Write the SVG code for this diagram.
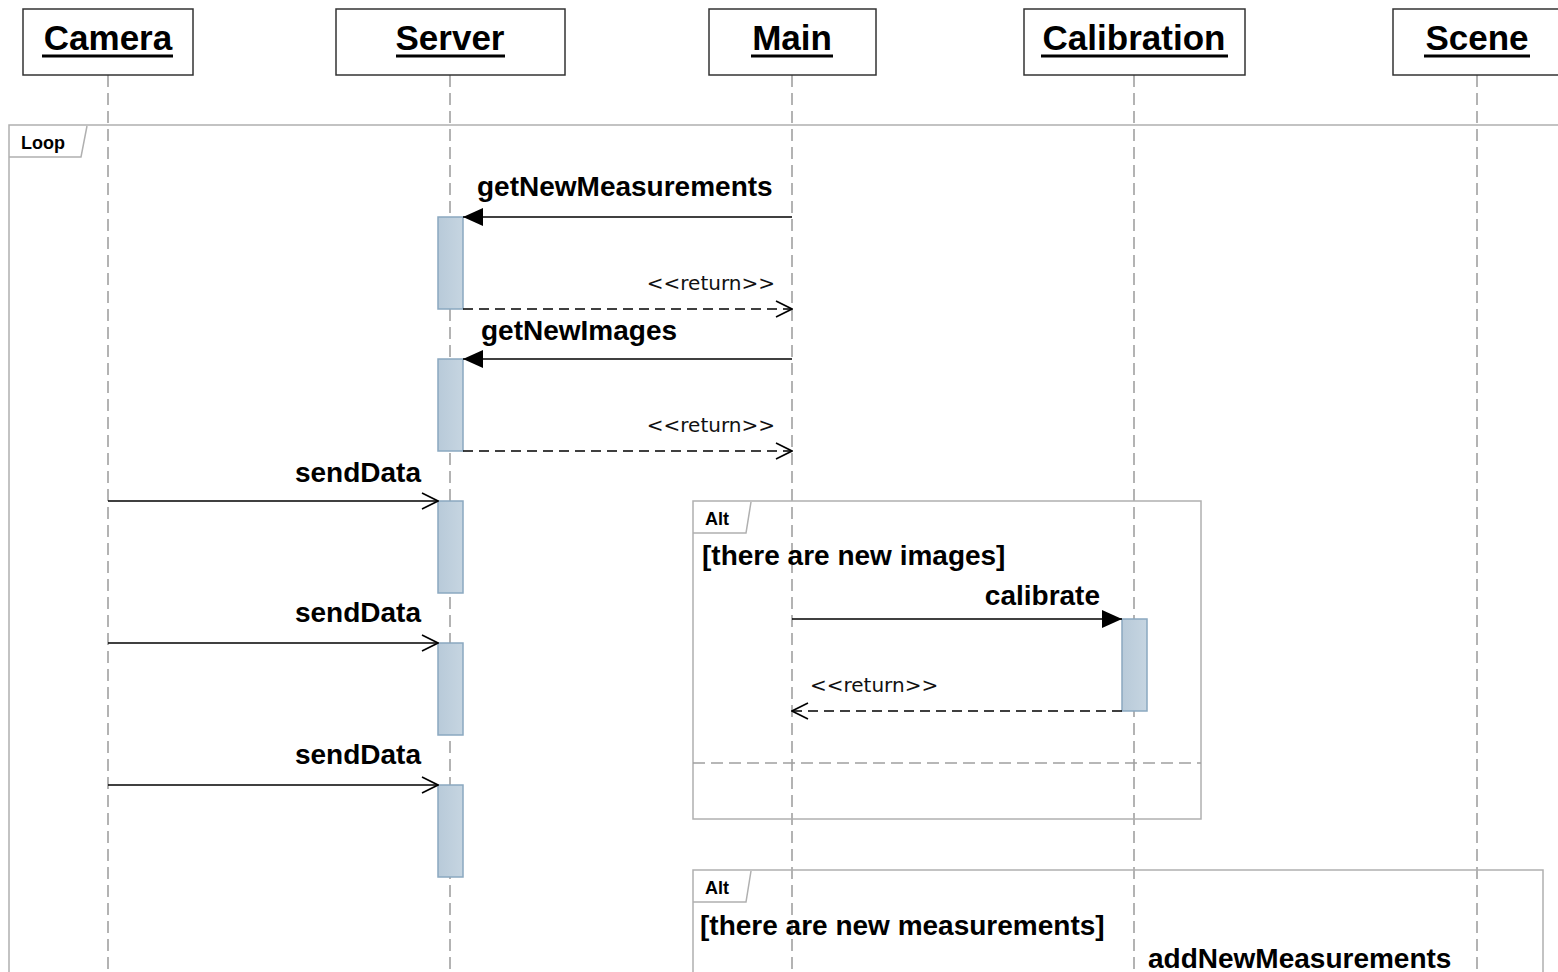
<svg xmlns="http://www.w3.org/2000/svg" width="1558" height="972" viewBox="0 0 1558 972">
<style>
.box{fill:#fff;stroke:#333;stroke-width:1.5}
.title{font-family:"Liberation Sans",Arial,sans-serif;font-weight:bold;font-size:35px;fill:#000;text-anchor:middle}
.ul{stroke:#000;stroke-width:3}
.life{stroke:#9a9a9a;stroke-width:1.5;stroke-dasharray:12 6;fill:none}
.frame{fill:none;stroke:#b0b0b0;stroke-width:1.5}
.tag{font-family:"Liberation Sans",Arial,sans-serif;font-weight:bold;font-size:18px;fill:#000}
.guard{font-family:"Liberation Sans",Arial,sans-serif;font-weight:bold;font-size:28px;fill:#000}
.lbl{font-family:"Liberation Sans",Arial,sans-serif;font-weight:bold;font-size:28px;fill:#000}
.ret{font-family:"DejaVu Sans",Verdana,sans-serif;font-size:20px;fill:#111}
.act{fill:url(#actg);stroke:#8aa8c0;stroke-width:1.5}
.msg{stroke:#000;stroke-width:1.5;fill:none}
.dash{stroke:#000;stroke-width:1.5;fill:none;stroke-dasharray:10 6}
.sep{stroke:#a0a0a0;stroke-width:1.5;stroke-dasharray:12 6}
</style>
<defs>
<linearGradient id="actg" x1="0" y1="0" x2="1" y2="0">
<stop offset="0" stop-color="#b8cad9"/>
<stop offset="1" stop-color="#c6d5e1"/>
</linearGradient>
<marker id="filled" viewBox="0 0 20 18" refX="20" refY="9" markerWidth="20" markerHeight="18" markerUnits="userSpaceOnUse" orient="auto">
<path d="M0,0 L20,9 L0,18 Z" fill="#000"/>
</marker>
<marker id="open" viewBox="0 0 18 20" refX="17" refY="10" markerWidth="18" markerHeight="20" markerUnits="userSpaceOnUse" orient="auto">
<path d="M1,2 L17,10 L1,18" fill="none" stroke="#000" stroke-width="1.6"/>
</marker>
</defs>
<rect width="1558" height="972" fill="#fff"/>

<g id="lifelines">
<line class="life" x1="108" y1="75" x2="108" y2="972"/>
<line class="life" x1="450" y1="75" x2="450" y2="972"/>
<line class="life" x1="792" y1="75" x2="792" y2="972"/>
<line class="life" x1="1134" y1="75" x2="1134" y2="972"/>
<line class="life" x1="1477" y1="75" x2="1477" y2="972"/>
</g>

<g id="node-camera">
<rect class="box" x="23" y="9" width="170" height="66"/>
<text class="title" x="108" y="50">Camera</text>
<line class="ul" x1="42" y1="56" x2="173" y2="56"/>
</g>
<g id="node-server">
<rect class="box" x="336" y="9" width="229" height="66"/>
<text class="title" x="450" y="50">Server</text>
<line class="ul" x1="396" y1="56" x2="505" y2="56"/>
</g>
<g id="node-main">
<rect class="box" x="709" y="9" width="167" height="66"/>
<text class="title" x="792" y="50">Main</text>
<line class="ul" x1="751" y1="56" x2="833" y2="56"/>
</g>
<g id="node-calibration">
<rect class="box" x="1024" y="9" width="221" height="66"/>
<text class="title" x="1134" y="50">Calibration</text>
<line class="ul" x1="1041" y1="56" x2="1228" y2="56"/>
</g>
<g id="node-scene">
<rect class="box" x="1393" y="9" width="170" height="66"/>
<text class="title" x="1477" y="50">Scene</text>
<line class="ul" x1="1424" y1="56" x2="1530" y2="56"/>
</g>

<g id="frame-loop">
<path class="frame" d="M9,972 L9,125 L1562,125"/>
<path class="frame" d="M9,157 L81,157 L87,126"/>
<text class="tag" x="21" y="149">Loop</text>
</g>

<g id="frame-alt1">
<rect class="frame" x="693" y="501" width="508" height="318"/>
<path class="frame" d="M693,533 L746,533 L751,502"/>
<text class="tag" x="705" y="525">Alt</text>
<text class="guard" x="702" y="565">[there are new images]</text>
<line class="sep" x1="693" y1="763" x2="1201" y2="763"/>
</g>

<g id="frame-alt2">
<path class="frame" d="M693,972 L693,870 L1543,870 L1543,972"/>
<path class="frame" d="M693,902 L746,902 L751,871"/>
<text class="tag" x="705" y="894">Alt</text>
<text class="guard" x="700" y="935">[there are new measurements]</text>
</g>

<g id="activations">
<rect class="act" x="438" y="217" width="25" height="92"/>
<rect class="act" x="438" y="359" width="25" height="92"/>
<rect class="act" x="438" y="501" width="25" height="92"/>
<rect class="act" x="438" y="643" width="25" height="92"/>
<rect class="act" x="438" y="785" width="25" height="92"/>
<rect class="act" x="1122" y="619" width="25" height="92"/>
</g>

<g id="connectors">
<line class="msg" x1="792" y1="217" x2="463" y2="217" marker-end="url(#filled)"/>
<text class="lbl" x="477" y="196">getNewMeasurements</text>
<line class="dash" x1="463" y1="309" x2="792" y2="309" marker-end="url(#open)"/>
<text class="ret" x="775" y="290" text-anchor="end">&lt;&lt;return&gt;&gt;</text>

<line class="msg" x1="792" y1="359" x2="463" y2="359" marker-end="url(#filled)"/>
<text class="lbl" x="481" y="340">getNewImages</text>
<line class="dash" x1="463" y1="451" x2="792" y2="451" marker-end="url(#open)"/>
<text class="ret" x="775" y="432" text-anchor="end">&lt;&lt;return&gt;&gt;</text>

<line class="msg" x1="108" y1="501" x2="438" y2="501" marker-end="url(#open)"/>
<text class="lbl" x="421" y="482" text-anchor="end">sendData</text>
<line class="msg" x1="108" y1="643" x2="438" y2="643" marker-end="url(#open)"/>
<text class="lbl" x="421" y="622" text-anchor="end">sendData</text>
<line class="msg" x1="108" y1="785" x2="438" y2="785" marker-end="url(#open)"/>
<text class="lbl" x="421" y="764" text-anchor="end">sendData</text>

<line class="msg" x1="792" y1="619" x2="1122" y2="619" marker-end="url(#filled)"/>
<text class="lbl" x="1100" y="605" text-anchor="end">calibrate</text>
<line class="dash" x1="1122" y1="711" x2="792" y2="711" marker-end="url(#open)"/>
<text class="ret" x="810" y="692">&lt;&lt;return&gt;&gt;</text>

<text class="lbl" x="1148" y="968">addNewMeasurements</text>
</g>
</svg>
